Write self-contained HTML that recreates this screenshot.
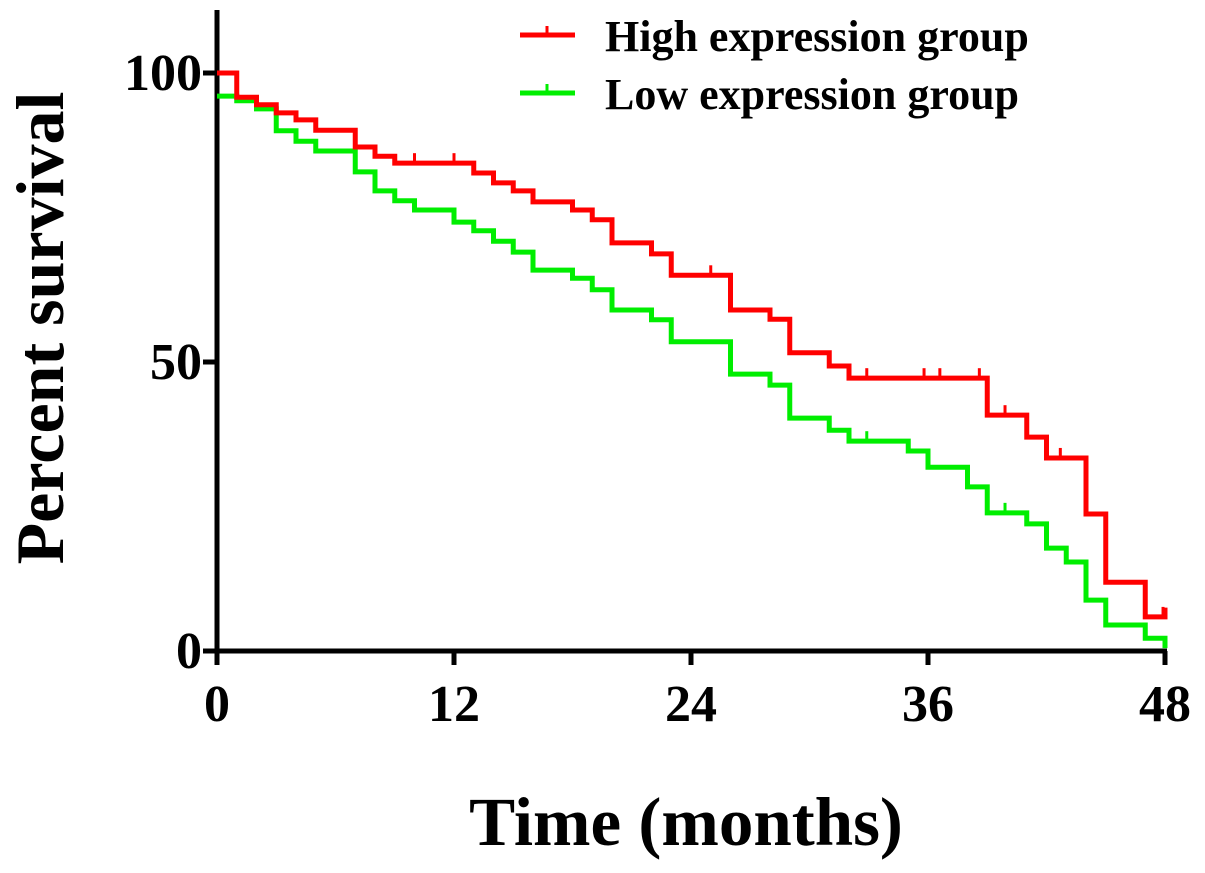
<!DOCTYPE html>
<html><head><meta charset="utf-8"><style>
body{margin:0;background:#fff;}
svg{display:block;font-family:"Liberation Serif",serif;font-weight:bold;}
</style></head><body>
<svg id="chart" width="1205" height="873">
<g id="axes"></g>
<g id="series"></g>
<text x="40" y="328" transform="rotate(-90 40 328)" text-anchor="middle" dominant-baseline="central" font-size="68">Percent survival</text>
<text x="686" y="845" text-anchor="middle" font-size="69">Time (months)</text>
<g>
<line x1="520" y1="35" x2="575" y2="35" stroke="#ff0000" stroke-width="5"/>
<line x1="547" y1="35" x2="547" y2="26" stroke="#ff0000" stroke-width="3"/>
<text x="605" y="51" font-size="44">High expression group</text>
<line x1="520" y1="93" x2="575" y2="93" stroke="#00ee00" stroke-width="5"/>
<line x1="547" y1="93" x2="547" y2="84" stroke="#00ee00" stroke-width="3"/>
<text x="605" y="109" font-size="44">Low expression group</text>
</g>
</svg>
<script>
const xTicks=[0,12,24,36,48];
const yTicks=[0,50,100];
const highTimes=[0,1,2,3,4,5,7,8,9,13,14,15,16,18,19,20,22,23,26,28,29,31,32,39,41,42,44,45,47,48];
const highSurv=[100,95.8,94.5,93.1,91.9,90.1,87.2,85.6,84.4,82.7,81,79.6,77.7,76.3,74.6,70.6,68.7,65,59,57.4,51.6,49.3,47.2,40.8,37,33.4,23.7,11.9,5.9,7.5];
const highCensor=[10,12,25,32.9,35.8,36.6,38.6,39.9,42.7,47.9];
const lowTimes=[0,1,2,3,4,5,7,8,9,10,12,13,14,15,16,18,19,20,22,23,26,28,29,31,32,35,36,38,39,41,42,43,44,45,47,48];
const lowSurv=[96,95.2,93.8,90,88.2,86.5,82.9,79.6,77.9,76.3,74.2,72.7,70.9,69,65.9,64.5,62.5,59,57.3,53.5,47.9,46,40.3,38.2,36.3,34.6,31.8,28.4,23.9,22,17.8,15.4,8.8,4.5,2.2,0.5];
const lowCensor=[32.9,39.9];
const X0=217,X1=1165,Y0=651,Y1=73;
const xs=t=>X0+(X1-X0)*t/48, ys=v=>Y0-(Y0-Y1)*v/100;
const NS="http://www.w3.org/2000/svg";
function mk(tag,attrs,parent){const e=document.createElementNS(NS,tag);for(const k in attrs)e.setAttribute(k,attrs[k]);parent.appendChild(e);return e;}
const axes=document.getElementById('axes'),series=document.getElementById('series');
let a=mk('line',{x1:X0,y1:10,x2:X0,y2:Y0+2,stroke:'#000','stroke-width':5},axes);


a=mk('line',{x1:X0-2,y1:Y0,x2:X1+2,y2:Y0,stroke:'#000','stroke-width':5},axes);


yTicks.forEach(v=>{mk('line',{x1:X0-14,y1:ys(v),x2:X0,y2:ys(v),stroke:'#000','stroke-width':5},axes);
const t=mk('text',{x:X0-15,y:ys(v)+17,'text-anchor':'end','font-size':52},axes);t.textContent=v;

});
xTicks.forEach(v=>{mk('line',{x1:xs(v),y1:Y0,x2:xs(v),y2:Y0+14,stroke:'#000','stroke-width':5},axes);
const t=mk('text',{x:xs(v),y:Y0+70,'text-anchor':'middle','font-size':52},axes);t.textContent=v;

});
function stepAt(times,surv,t){let v=surv[0];for(let i=0;i<times.length;i++){if(times[i]<=t)v=surv[i];}return v;}
function draw(times,surv,cens,color,name){
 let d='M'+xs(times[0])+','+ys(surv[0]);
 for(let i=1;i<times.length;i++){d+=' H'+xs(times[i])+' V'+ys(surv[i]);}
 const p=mk('path',{d:d,fill:'none',stroke:color,'stroke-width':5},series);
 
 
 cens.forEach(c=>{const v=stepAt(times,surv,c);
  const l=mk('line',{x1:xs(c),y1:ys(v),x2:xs(c),y2:ys(v)-10,stroke:color,'stroke-width':3},series);
  
  });
}
draw(lowTimes,lowSurv,lowCensor,'#00ee00','low-expression');
draw(highTimes,highSurv,highCensor,'#ff0000','high-expression');
</script>
</body></html>
